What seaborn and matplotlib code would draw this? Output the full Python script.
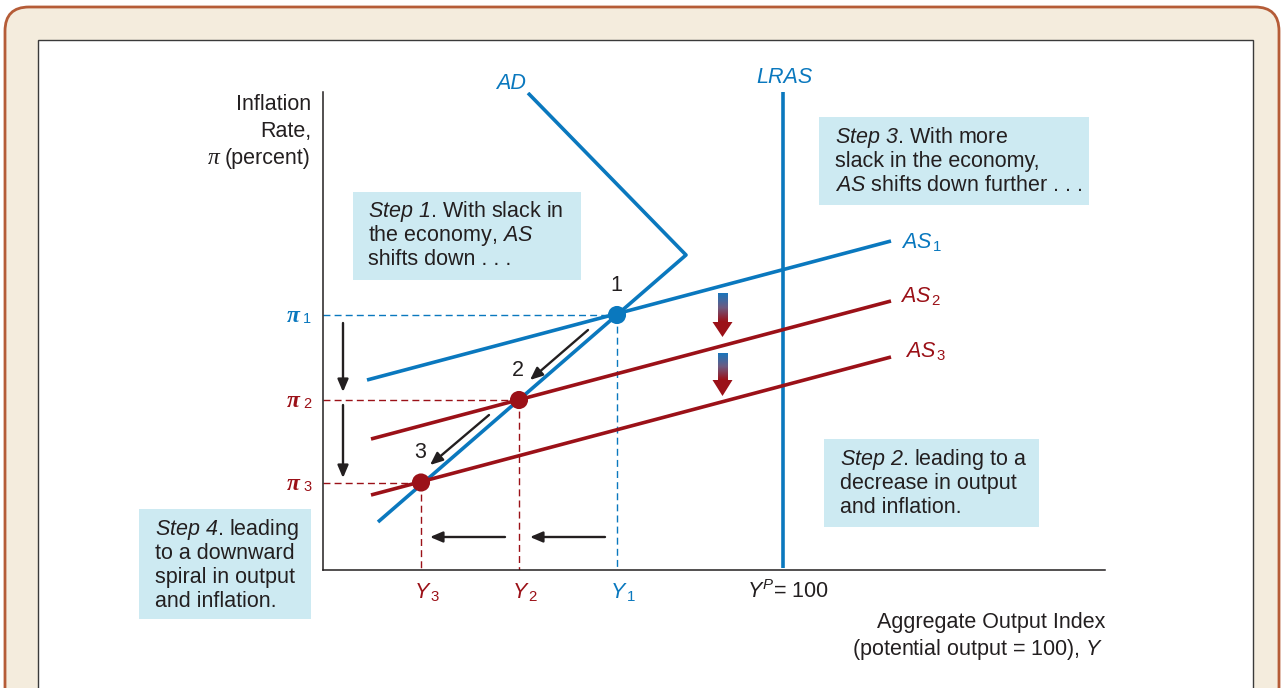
import numpy as np
import pandas as pd
import seaborn as sns
import matplotlib.pyplot as plt
from matplotlib.patches import FancyBboxPatch, Rectangle, Polygon
from matplotlib.colors import LinearSegmentedColormap

# --- curve data (output index Y, inflation pi in chart units) ---
ad_x = [74.5, 90.3, 59.5]
ad_y = [47.7, 31.5, 4.8]
lras_x = [100.0, 100.0]
lras_y = [0.2, 47.8]
as1_x = [58.4, 110.8]
as1_y = [19.0, 32.9]
as2_x = [58.8, 110.8]
as2_y = [13.1, 26.9]
as3_x = [58.8, 110.8]
as3_y = [7.5, 21.3]

# equilibrium points 1, 2, 3
eq_labels = ["1", "2", "3"]
eq_out = [83.4, 73.6, 63.8]
eq_pi = [25.5, 17.0, 8.75]

y_potential = 100.0
x_min, x_max = 54.0, 132.2
y_min, y_max = 0.0, 47.8

BLUE = "#0a78be"
RED = "#9b1118"
TXT = "#231f20"
BOX = "#cdeaf2"

sns.set_style("white")
plt.rcParams["font.family"] = ["Liberation Sans", "DejaVu Sans"]
plt.rcParams["mathtext.fontset"] = "custom"
plt.rcParams["mathtext.rm"] = "Liberation Sans"
plt.rcParams["mathtext.it"] = "Liberation Sans:italic"
plt.rcParams["mathtext.sf"] = "Liberation Sans:italic"  # italic incl. digits
plt.rcParams["mathtext.bf"] = "Liberation Sans:bold"

W, H = 1283, 688
fig = plt.figure(figsize=(W / 100, H / 100), dpi=100)

# --- frame ---
bg = fig.add_axes([0, 0, 1, 1], zorder=0)
bg.set_xlim(0, W)
bg.set_ylim(H, 0)
bg.axis("off")
bg.add_patch(FancyBboxPatch((5, 7), 1274, 760, boxstyle="round,pad=0,rounding_size=24",
                            fc="#f4ecdd", ec="#b55c37", lw=2.0))
bg.add_patch(Rectangle((38, 40), 1215, 700, fc="white", ec="#3a3a3a", lw=1.0))

# --- main axes ---
left, bottom = 323 / W, (H - 570) / H
ax = fig.add_axes([left, bottom, (1105 - 323) / W, (570 - 92) / H], zorder=1)
ax.patch.set_alpha(0)
sns.despine(ax=ax)
for s in ["left", "bottom"]:
    ax.spines[s].set_color(TXT)
    ax.spines[s].set_linewidth(1.1)
ax.set_xticks([])
ax.set_yticks([])

curves = pd.DataFrame({
    "curve": ["AD"] * 3 + ["LRAS"] * 2 + ["AS1"] * 2 + ["AS2"] * 2 + ["AS3"] * 2,
    "x": ad_x + lras_x + as1_x + as2_x + as3_x,
    "y": ad_y + lras_y + as1_y + as2_y + as3_y,
})
pal = {"AD": BLUE, "LRAS": BLUE, "AS1": BLUE, "AS2": RED, "AS3": RED}
sns.lineplot(data=curves, x="x", y="y", hue="curve", palette=pal, estimator=None,
             sort=False, legend=False, lw=2.6, ax=ax, solid_capstyle="butt", zorder=3)

# dashed guides
eq_cols = [BLUE, RED, RED]
for xo, pi, c in zip(eq_out, eq_pi, eq_cols):
    ax.plot([x_min, xo], [pi, pi], color=c, lw=1.0, dashes=(5, 3), zorder=2)
    ax.plot([xo, xo], [pi, y_min], color=c, lw=1.0, dashes=(5, 3), zorder=2)

sns.scatterplot(x=eq_out, y=eq_pi, hue=eq_labels, palette=eq_cols, s=170,
                edgecolor="none", legend=False, ax=ax, zorder=5, clip_on=False)
for lab, xo, pi in zip(eq_labels, eq_out, eq_pi):
    ax.text(xo - 0.1, pi + 1.9, lab, fontsize=15.5, color=TXT, ha="center", va="bottom")


def arrow(x0, y0, x1, y1):
    ax.annotate("", xy=(x1, y1), xytext=(x0, y0), annotation_clip=False,
                arrowprops=dict(arrowstyle="-|>,head_length=0.75,head_width=0.32",
                                color=TXT, lw=1.7, shrinkA=0, shrinkB=0))


arrow(56.0, 24.7, 56.0, 17.8)
arrow(56.0, 16.5, 56.0, 9.2)
arrow(72.2, 3.3, 64.7, 3.3)
arrow(82.2, 3.3, 74.7, 3.3)
arrow(80.5, 24.0, 74.7, 19.0)
arrow(70.6, 15.5, 64.7, 10.5)

# gradient shift arrows
shift_x = 93.95
shift_top = [27.7, 21.7]
shift_base = [24.8, 19.0]
shift_tip = [23.3, 17.4]
grad = LinearSegmentedColormap.from_list("g", ["#1b75bb", "#6e5a80", RED])
for t, b, tip in zip(shift_top, shift_base, shift_tip):
    ax.imshow(np.linspace(0, 1, 50).reshape(-1, 1), cmap=grad, aspect="auto",
              extent=[shift_x - 0.45, shift_x + 0.45, b, t], zorder=4, interpolation="bilinear")
    ax.add_patch(Polygon([(shift_x - 1.0, b), (shift_x + 1.0, b), (shift_x, tip)],
                         closed=True, fc=RED, ec="none", zorder=4))

# curve labels
ax.text(72.8, 48.1, "AD", style="italic", fontsize=15.5, color=BLUE, ha="center", va="baseline")
ax.text(100.1, 48.7, "LRAS", style="italic", fontsize=15.5, color=BLUE, ha="center", va="baseline")
as_labels = [r"$\mathit{AS}_{\,\mathrm{1}}$", r"$\mathit{AS}_{\,\mathrm{2}}$", r"$\mathit{AS}_{\,\mathrm{3}}$"]
as_lx = [111.8, 111.7, 112.2]
as_ly = [32.2, 26.8, 21.3]
for lab, lx, ly, c in zip(as_labels, as_lx, as_ly, [BLUE, RED, RED]):
    ax.text(lx, ly, lab, fontsize=15.5, color=c, ha="left", va="baseline")

# pi labels
for i, (pi, c) in enumerate(zip(eq_pi, eq_cols)):
    t = ax.text(50.4, pi - 0.7, "\u03c0", family="Liberation Serif", style="italic",
                weight="bold", fontsize=17, color=c, ha="left", va="baseline")
    ax.annotate(str(i + 1), xy=(1, 0), xycoords=t, xytext=(2.5, 0.5),
                textcoords="offset points", fontsize=10.5, color=c, ha="left", va="bottom")

# Y labels
y_labels = [r"$\mathit{Y}_{\,\mathrm{1}}$", r"$\mathit{Y}_{\,\mathrm{2}}$", r"$\mathit{Y}_{\,\mathrm{3}}$"]
for lab, xo, c in zip(y_labels, eq_out, eq_cols):
    ax.text(xo - 0.7, -2.8, lab, fontsize=15.5, color=c, ha="left", va="baseline")
ax.text(y_potential - 3.6, -2.8, r"$\mathit{Y}^{\mathit{P}}$= 100", fontsize=15.5, color=TXT,
        ha="left", va="baseline")

# axis titles
ax.text(52.8, 46.0, "Inflation", fontsize=15.5, color=TXT, ha="right", va="baseline")
ax.text(52.8, 43.3, "Rate,", fontsize=15.5, color=TXT, ha="right", va="baseline")
ax.text(52.8, 40.6, "(percent)", fontsize=15.5, color=TXT, ha="right", va="baseline")
ax.text(43.1, 40.6, "\u03c0", family="Liberation Serif", style="italic", fontsize=17,
        color=TXT, ha="center", va="baseline")
ax.text(132.2, -5.8, "Aggregate Output Index", fontsize=15.5, color=TXT, ha="right", va="baseline")
ax.text(132.0, -8.5, r"(potential output = 100), $\mathit{Y}$", fontsize=15.5, color=TXT,
        ha="right", va="baseline")

# step boxes
steps = [
    ((57.0, 29.0, 22.8, 8.8), (58.5, 35.3),
     [r"$\mathsf{Step\ 1}$. With slack in", r"the economy, $\mathit{AS}$", "shifts down . . ."]),
    ((103.6, 36.5, 27.0, 8.8), (105.2, 42.7),
     [r"$\mathsf{Step\ 3}$. With more", "slack in the economy,", r"$\mathit{AS}$ shifts down further . . ."]),
    ((104.1, 4.3, 21.5, 8.8), (105.7, 10.5),
     [r"$\mathsf{Step\ 2}$. leading to a", "decrease in output", "and inflation."]),
    ((35.6, -4.9, 17.2, 11.0), (37.2, 3.5),
     [r"$\mathsf{Step\ 4}$. leading", "to a downward", "spiral in output", "and inflation."]),
]
for (bx, by, bw, bh), (tx, ty), lines in steps:
    ax.add_patch(Rectangle((bx, by), bw, bh, fc=BOX, ec="none", zorder=1, clip_on=False))
    for k, line in enumerate(lines):
        ax.text(tx, ty - 2.4 * k, line, fontsize=15.5, color=TXT, ha="left", va="baseline", zorder=6)

ax.set_xlim(x_min, x_max)
ax.set_ylim(y_min, y_max)
ax.set_xlabel("")
ax.set_ylabel("")

fig.savefig("out.png", dpi=100)
